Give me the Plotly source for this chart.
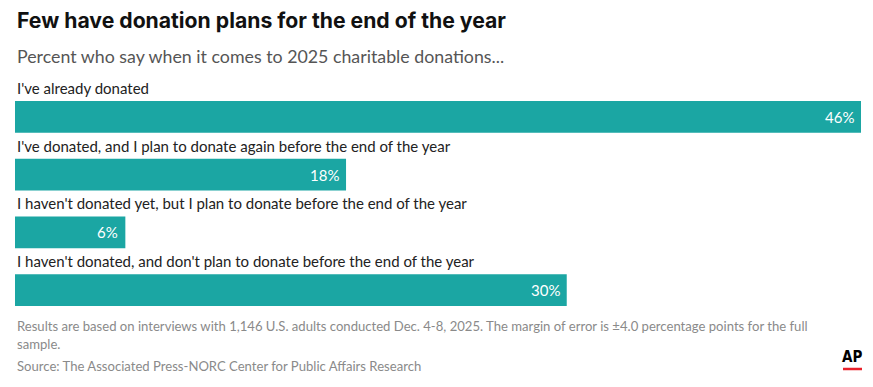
import plotly.graph_objects as go

categories = [
    "I've already donated",
    "I've donated, and I plan to donate again before the end of the year",
    "I haven't donated yet, but I plan to donate before the end of the year",
    "I haven't donated, and don't plan to donate before the end of the year",
]
values = [46, 18, 6, 30]
value_labels = ["46%", "18%", "6%", "30%"]

TEAL = "#1ba6a3"
ypos = list(range(len(categories)))

W, H = 873, 387
ML, MR, MT, MB = 15, 12, 88, 68
plot_w = W - ML - MR
plot_h = H - MT - MB

def px_x(x):
    return (x - ML) / plot_w

def px_y(y):
    return (H - MB - y) / plot_h

fig = go.Figure()
fig.add_trace(go.Bar(
    x=values, y=ypos, orientation="h", width=0.55,
    marker=dict(color=TEAL, line=dict(width=0)),
    hoverinfo="skip",
))

for i, (cat, v, lab) in enumerate(zip(categories, values, value_labels)):
    fig.add_annotation(
        x=0, xref="paper", y=i, yref="y", text=cat, showarrow=False,
        xanchor="left", yanchor="middle", yshift=29,
        font=dict(family="Lato", size=15, color="#222222"),
    )
    fig.add_annotation(
        x=v, xref="x", y=i, yref="y", text=lab, showarrow=False,
        xanchor="right", yanchor="middle", xshift=-5,
        font=dict(family="Lato", size=15, color="#ffffff"),
    )

FOOT = dict(family="Lato", size=13.1, color="#8a8a8a")
texts = [
    ("<b>Few have donation plans for the end of the year</b>", 20,
     dict(family="Inter", size=21.2, color="#111111")),
    ("Percent who say when it comes to 2025 charitable donations...", 56,
     dict(family="Lato", size=17.8, color="#555555")),
    ("Results are based on interviews with 1,146 U.S. adults conducted Dec. 4-8, 2025. "
     "The margin of error is ±4.0 percentage points for the full", 326, FOOT),
    ("sample.", 344, FOOT),
    ("Source: The Associated Press-NORC Center for Public Affairs Research", 366, FOOT),
]
for t, y, f in texts:
    fig.add_annotation(x=0, xref="paper", y=px_y(y), yref="paper", text=t,
                       showarrow=False, xanchor="left", yanchor="middle", font=f)

fig.add_annotation(x=px_x(852), xref="paper", y=px_y(357), yref="paper",
                   text="<b>AP</b>", showarrow=False, xanchor="center", yanchor="middle",
                   font=dict(family="DejaVu Sans Condensed, Liberation Sans Narrow, sans-serif",
                             size=15, color="#000000"))
fig.add_shape(type="line", xref="paper", yref="paper",
              x0=px_x(843), x1=px_x(862), y0=px_y(369), y1=px_y(369),
              line=dict(color="#e8202a", width=2.5))

fig.update_layout(
    width=W, height=H,
    margin=dict(l=ML, r=MR, t=MT, b=MB),
    paper_bgcolor="white", plot_bgcolor="white",
    showlegend=False,
    xaxis=dict(range=[0, 46], visible=False, fixedrange=True),
    yaxis=dict(range=[3.5, -0.5], visible=False, fixedrange=True),
)

fig.write_html("out.html", config={"displayModeBar": False},
               post_script="document.body.style.margin='0';document.body.style.padding='0';")
